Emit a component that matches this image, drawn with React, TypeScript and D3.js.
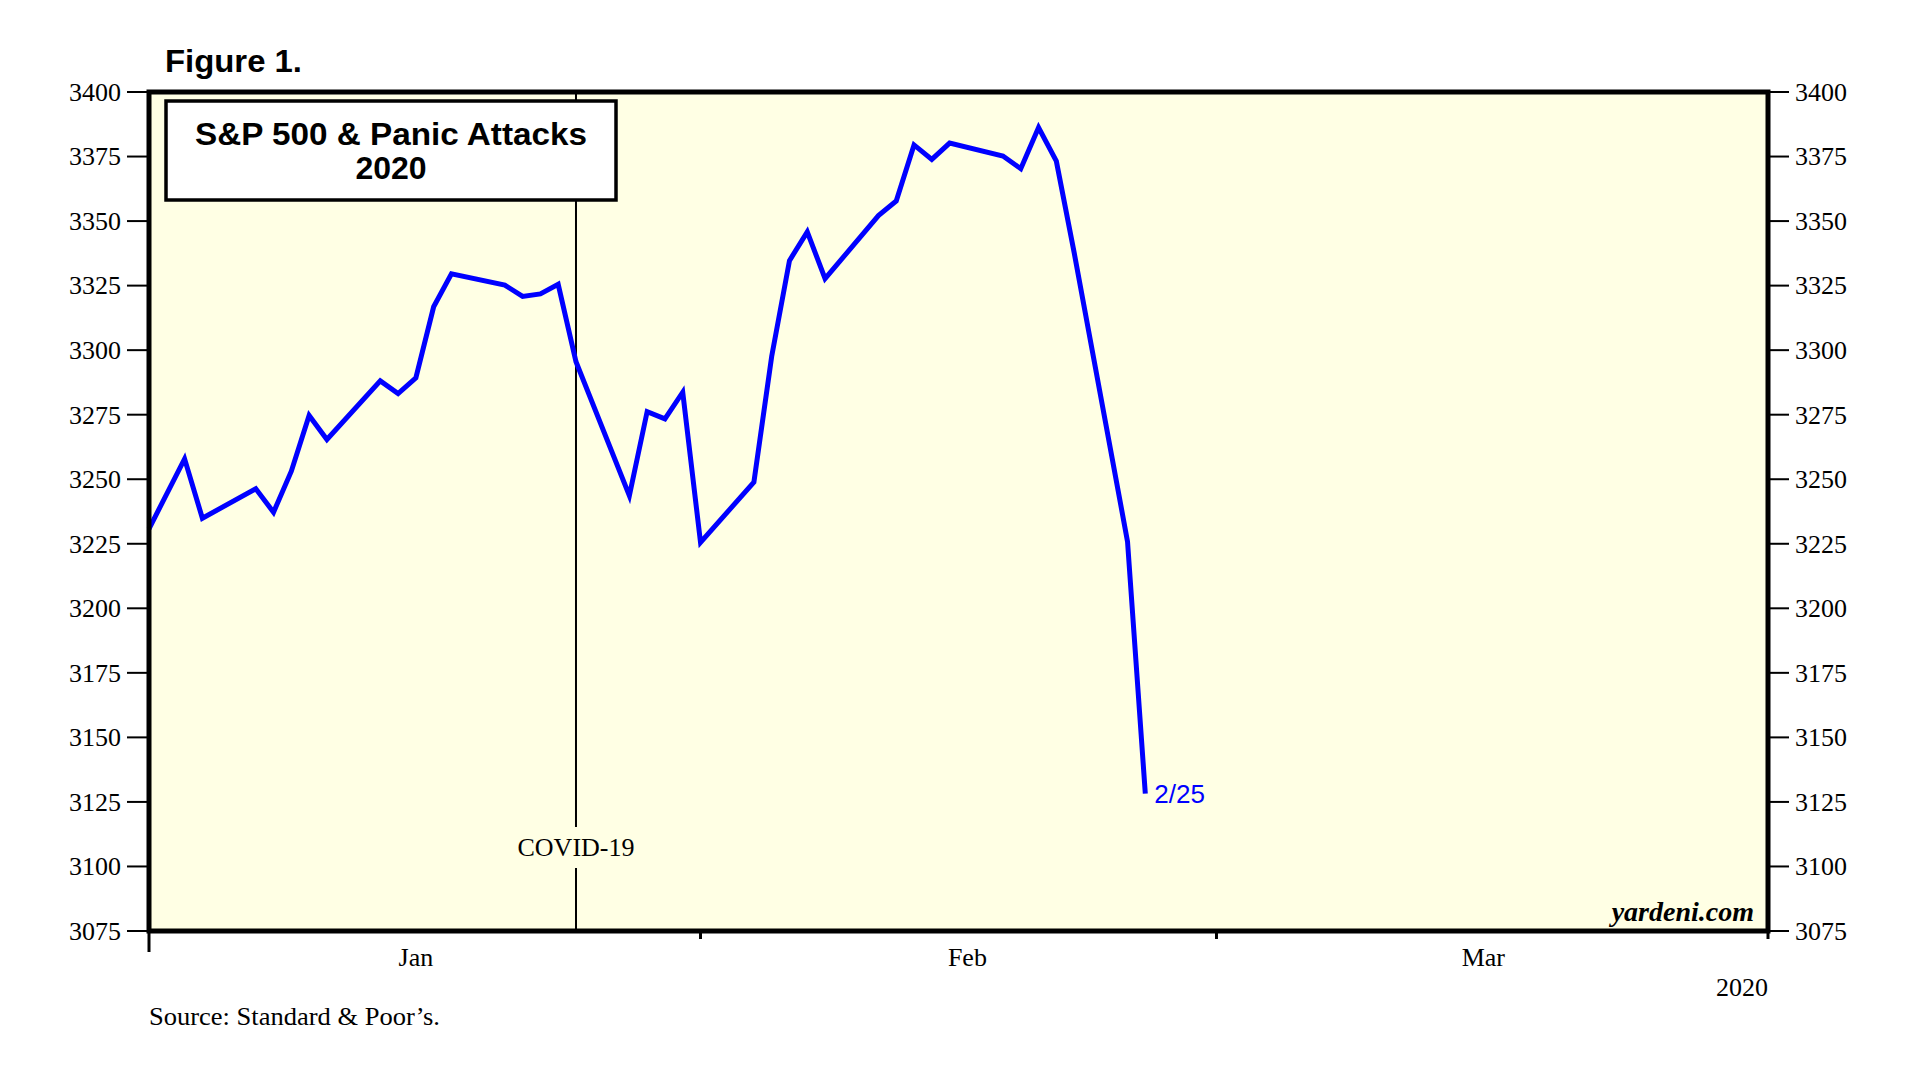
import React from "react";
import * as d3 from "d3";

// ---- data ----
const dates = [
  "2019-12-31", "2020-01-02", "2020-01-03", "2020-01-06", "2020-01-07", "2020-01-08",
  "2020-01-09", "2020-01-10", "2020-01-13", "2020-01-14", "2020-01-15", "2020-01-16",
  "2020-01-17", "2020-01-20", "2020-01-21", "2020-01-22", "2020-01-23", "2020-01-24",
  "2020-01-27", "2020-01-28", "2020-01-29", "2020-01-30", "2020-01-31", "2020-02-03",
  "2020-02-04", "2020-02-05", "2020-02-06", "2020-02-07", "2020-02-10", "2020-02-11",
  "2020-02-12", "2020-02-13", "2020-02-14", "2020-02-17", "2020-02-18", "2020-02-19",
  "2020-02-20", "2020-02-21", "2020-02-24", "2020-02-25",
];
const values = [
  3230.8, 3257.9, 3234.9, 3246.3, 3237.2, 3253.1,
  3274.7, 3265.4, 3288.1, 3283.2, 3289.3, 3316.8,
  3329.6, 3325.2, 3320.8, 3321.8, 3325.5, 3295.5,
  3243.6, 3276.2, 3273.4, 3283.7, 3225.5, 3248.9,
  3297.6, 3334.7, 3345.8, 3327.7, 3352.1, 3357.8,
  3379.5, 3373.9, 3380.2, 3375.2, 3370.3, 3386.2,
  3373.2, 3337.8, 3225.9, 3128.2,
];
const yTicks = [3075, 3100, 3125, 3150, 3175, 3200, 3225, 3250, 3275, 3300, 3325, 3350, 3375, 3400];
const monthEdges = ["2019-12-31", "2020-01-31", "2020-02-29", "2020-03-31"];
const monthLabels = ["Jan", "Feb", "Mar"];
const monthLabelDates = ["2020-01-15", "2020-02-15", "2020-03-15"];
const eventDate = "2020-01-24";
const eventLabel = "COVID-19";
const lastLabel = "2/25";
const figureLabel = "Figure 1.";
const titleLines = ["S&P 500 & Panic Attacks", "2020"];
const yearLabel = "2020";
const sourceLabel = "Source: Standard & Poor\u2019s.";
const brandLabel = "yardeni.com";

const parse = d3.utcParse("%Y-%m-%d");

export default function App() {
  const W = 1926, H = 1082;
  const L = 149, R = 1768, T = 92, B = 931;
  const x = d3.scaleUtc().domain([parse(monthEdges[0])!, parse(monthEdges[3])!]).range([L, R]);
  const y = d3.scaleLinear().domain([3075, 3400]).range([B, T]);
  const pts = dates.map((d, i) => ({ d: parse(d)!, v: values[i] }));
  const line = d3.line<{ d: Date; v: number }>().x((p) => x(p.d)).y((p) => y(p.v));
  const serif = "'Liberation Serif', 'Times New Roman', serif";
  const sans = "'Liberation Sans', Arial, sans-serif";
  const ex = x(parse(eventDate)!);
  const last = pts[pts.length - 1];
  const lx = x(last.d), ly = y(last.v);

  return (
    <div style={{ position: "absolute", left: 0, top: 0 }}>
      <svg width={W} height={H} style={{ display: "block", background: "#fff" }}>
        <rect x={0} y={0} width={W} height={H} fill="#fff" />
        <text x={165} y={72} fontFamily={sans} fontWeight="bold" fontSize={31} textLength={137} lengthAdjust="spacingAndGlyphs">
          {figureLabel}
        </text>
        {/* plot background */}
        <rect x={L} y={T} width={R - L} height={B - T} fill="#FFFFE4" />
        {/* event line */}
        <line x1={ex} x2={ex} y1={T} y2={827} stroke="#000" strokeWidth={2} />
        <line x1={ex} x2={ex} y1={868} y2={B} stroke="#000" strokeWidth={2} />
        <text x={ex} y={856} textAnchor="middle" fontFamily={serif} fontSize={26}>
          {eventLabel}
        </text>
        {/* series */}
        <path d={line(pts)!} fill="none" stroke="#0000FF" strokeWidth={5} strokeLinejoin="miter" strokeLinecap="butt" />
        <text x={lx + 9} y={ly + 9} fontFamily={sans} fontSize={26} fill="#0000FF">
          {lastLabel}
        </text>
        {/* title box */}
        <rect x={166} y={101} width={450} height={99} fill="#fff" stroke="#000" strokeWidth={3.5} />
        <text x={391} y={145} textAnchor="middle" fontFamily={sans} fontWeight="bold" fontSize={32} textLength={392} lengthAdjust="spacingAndGlyphs">
          {titleLines[0]}
        </text>
        <text x={391} y={179} textAnchor="middle" fontFamily={sans} fontWeight="bold" fontSize={32}>
          {titleLines[1]}
        </text>
        <text x={1754} y={921} textAnchor="end" fontFamily={serif} fontWeight="bold" fontStyle="italic" fontSize={28}>
          {brandLabel}
        </text>
        {/* frame */}
        <rect x={L} y={T} width={R - L} height={B - T} fill="none" stroke="#000" strokeWidth={5} />
        {/* y axes */}
        {yTicks.map((t) => (
          <g key={t}>
            <line x1={127} x2={L} y1={y(t)} y2={y(t)} stroke="#000" strokeWidth={2} />
            <text x={121} y={y(t)} dy="0.34em" textAnchor="end" fontFamily={serif} fontSize={26}>
              {t}
            </text>
            <line x1={R} x2={1789} y1={y(t)} y2={y(t)} stroke="#000" strokeWidth={2} />
            <text x={1795} y={y(t)} dy="0.34em" textAnchor="start" fontFamily={serif} fontSize={26}>
              {t}
            </text>
          </g>
        ))}
        {/* x axis */}
        {monthEdges.map((m, i) => {
          const xx = x(parse(m)!);
          return (
            <line key={m} x1={xx} x2={xx} y1={B} y2={i === 0 ? 952 : 939} stroke="#000" strokeWidth={3} />
          );
        })}
        {monthLabels.map((m, i) => (
          <text key={m} x={x(parse(monthLabelDates[i])!)} y={966} textAnchor="middle" fontFamily={serif} fontSize={26}>
            {m}
          </text>
        ))}
        <text x={R} y={996} textAnchor="end" fontFamily={serif} fontSize={26}>
          {yearLabel}
        </text>
        <text x={L} y={1025} fontFamily={serif} fontSize={26} textLength={291} lengthAdjust="spacingAndGlyphs">
          {sourceLabel}
        </text>
      </svg>
    </div>
  );
}
